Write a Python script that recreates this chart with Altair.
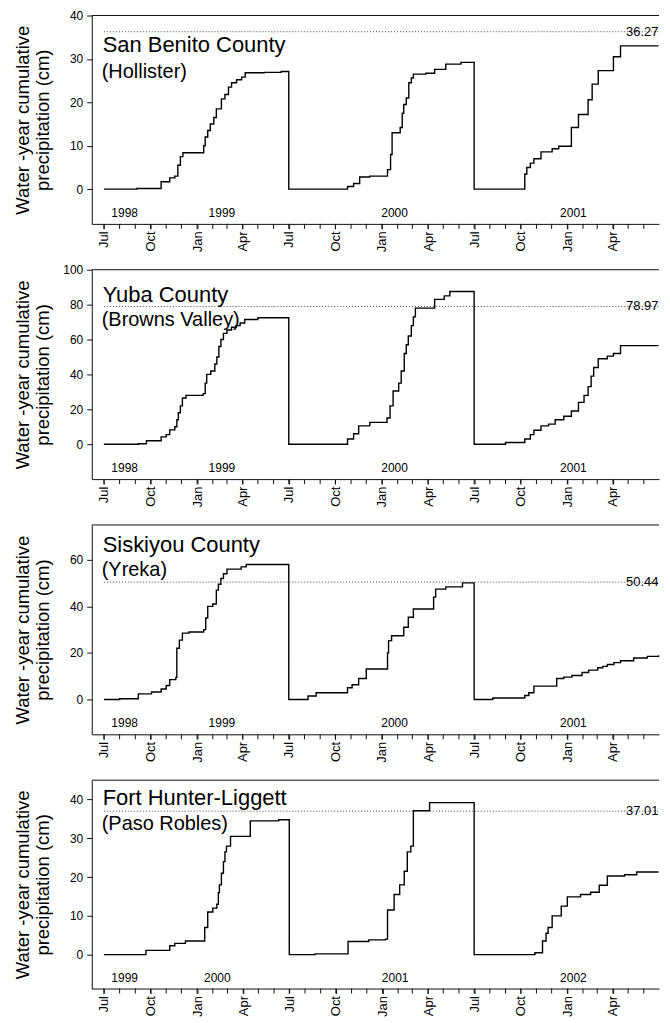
import altair as alt
import pandas as pd

# ---------------- data ----------------
sb_dates = ["1998-07-01", "1998-09-04", "1998-10-22", "1998-11-08", "1998-11-18", "1998-11-24",
            "1998-11-29", "1998-12-04", "1999-01-14", "1999-01-17", "1999-01-22", "1999-01-27",
            "1999-02-03", "1999-02-08", "1999-02-18", "1999-02-25", "1999-03-04", "1999-03-10",
            "1999-03-20", "1999-03-30", "1999-04-06", "1999-05-14", "1999-06-16",
            "1999-07-01", "1999-10-25", "1999-11-06", "1999-11-18", "1999-12-08", "2000-01-12",
            "2000-01-18", "2000-01-21", "2000-02-06", "2000-02-10", "2000-02-13", "2000-02-18",
            "2000-02-23", "2000-02-28", "2000-03-03", "2000-03-28", "2000-04-14", "2000-05-06",
            "2000-06-05",
            "2000-07-01", "2000-10-09", "2000-10-13", "2000-10-20", "2000-10-27", "2000-11-10",
            "2000-12-02", "2000-12-15", "2001-01-09", "2001-01-23", "2001-02-11", "2001-02-19",
            "2001-03-03", "2001-04-02", "2001-04-16", "2001-06-30"]
sb_vals = [0, 0.15, 1.7, 2.6, 3.0, 5.5,
           7.5, 8.4, 10.0, 12.0, 13.5, 15.0,
           16.5, 18.5, 20.8, 21.8, 23.5, 24.5,
           25.2, 25.8, 26.8, 26.9, 27.1,
           0, 0.6, 1.3, 2.8, 3.0, 4.5,
           8.0, 13.0, 14.2, 17.5, 19.5, 21.0,
           24.5, 25.6, 26.5, 26.7, 27.6, 28.8,
           29.2,
           0, 3.5, 5.0, 6.0, 7.0, 8.6,
           9.3, 9.9, 14.2, 17.2, 20.6, 24.2,
           27.3, 30.5, 33.0, 33.0]

yu_dates = ["1998-07-01", "1998-09-07", "1998-09-23", "1998-10-22", "1998-11-01", "1998-11-08",
            "1998-11-18", "1998-11-22", "1998-11-25", "1998-11-29", "1998-12-03", "1998-12-10",
            "1999-01-13", "1999-01-17", "1999-01-20", "1999-01-28", "1999-02-05", "1999-02-09",
            "1999-02-13", "1999-02-17", "1999-02-22", "1999-03-01", "1999-03-10", "1999-03-19",
            "1999-03-27", "1999-04-05", "1999-05-01",
            "1999-07-01", "1999-10-25", "1999-11-06", "1999-11-16", "1999-12-08", "2000-01-11",
            "2000-01-17", "2000-01-23", "2000-02-03", "2000-02-08", "2000-02-14", "2000-02-18",
            "2000-02-22", "2000-02-28", "2000-03-03", "2000-03-07", "2000-04-14", "2000-05-03",
            "2000-05-14",
            "2000-07-01", "2000-09-01", "2000-10-09", "2000-10-20", "2000-10-27", "2000-11-10",
            "2000-11-25", "2000-12-08", "2000-12-25", "2001-01-09", "2001-01-23", "2001-02-03",
            "2001-02-11", "2001-02-17", "2001-02-22", "2001-03-03", "2001-03-21", "2001-04-02",
            "2001-04-16", "2001-06-30"]
yu_vals = [0, 0.3, 2.0, 4.2, 5.5, 8.2,
           10.0, 14.0, 18.0, 22.0, 26.5, 28.0,
           29.0, 35.0, 40.0, 42.0, 46.0, 50.0,
           56.0, 60.0, 63.5, 65.5, 67.0, 68.0,
           69.5, 71.5, 72.5,
           0, 3.0, 6.0, 10.5, 12.5, 15.0,
           22.0, 30.5, 35.0, 42.0, 52.0, 57.0,
           62.0, 68.0, 73.0, 78.0, 83.0, 85.0,
           87.5,
           0, 1.0, 3.0, 5.5, 8.0, 10.5,
           11.5, 14.0, 16.0, 19.0, 24.0, 28.0,
           33.0, 39.0, 44.0, 49.0, 50.5, 52.0,
           56.5, 56.5]

sk_dates = ["1998-07-01", "1998-08-01", "1998-09-07", "1998-10-03", "1998-10-22", "1998-11-01",
            "1998-11-08", "1998-11-20", "1998-11-22", "1998-11-27", "1998-12-03", "1998-12-16",
            "1999-01-14", "1999-01-18", "1999-01-22", "1999-02-01", "1999-02-08", "1999-02-12",
            "1999-02-17", "1999-02-22", "1999-03-01", "1999-03-29", "1999-04-08",
            "1999-07-01", "1999-08-08", "1999-08-24", "1999-10-25", "1999-11-03", "1999-11-16",
            "1999-12-01", "2000-01-12", "2000-01-14", "2000-01-20", "2000-02-13", "2000-02-22",
            "2000-03-03", "2000-04-12", "2000-04-16", "2000-05-06", "2000-06-08",
            "2000-07-01", "2000-08-07", "2000-10-09", "2000-10-17", "2000-10-27", "2000-12-11",
            "2000-12-25", "2001-01-10", "2001-01-30", "2001-02-12", "2001-03-02", "2001-03-12",
            "2001-03-21", "2001-04-03", "2001-04-16", "2001-05-12", "2001-06-08", "2001-06-30"]
sk_vals = [0, 0.3, 2.4, 3.2, 4.5, 6.0,
           8.5, 9.5, 22.0, 25.5, 28.5, 29.0,
           30.0, 35.0, 40.0, 41.0, 47.0, 49.5,
           52.0, 54.0, 56.0, 57.0, 58.0,
           0, 1.5, 2.9, 5.0, 6.3, 9.0,
           13.1, 20.0, 25.3, 27.4, 31.0, 35.3,
           38.9, 44.0, 47.4, 48.4, 50.1,
           0, 0.6, 1.7, 2.9, 5.7, 9.0,
           9.6, 10.3, 11.6, 12.6, 13.6, 14.2,
           15.0, 15.8, 16.6, 17.8, 18.5, 19.0]

fh_dates = ["1999-07-01", "1999-09-22", "1999-11-08", "1999-11-18", "1999-12-09", "2000-01-16",
            "2000-01-22", "2000-02-01", "2000-02-09", "2000-02-12", "2000-02-14", "2000-02-18",
            "2000-02-22", "2000-02-25", "2000-02-28", "2000-03-07", "2000-04-15", "2000-06-10",
            "2000-07-01", "2000-08-21", "2000-10-25", "2000-12-05", "2001-01-07", "2001-01-11",
            "2001-01-24", "2001-02-04", "2001-02-13", "2001-02-19", "2001-02-26", "2001-03-03",
            "2001-04-04",
            "2001-07-01", "2001-10-29", "2001-11-13", "2001-11-20", "2001-11-24", "2001-12-02",
            "2001-12-20", "2002-01-01", "2002-01-27", "2002-02-16", "2002-03-05", "2002-03-21",
            "2002-04-24", "2002-05-18", "2002-06-30"]
fh_vals = [0, 1.1, 2.3, 2.9, 3.5, 7.0,
           11.0, 12.0, 13.0, 16.0, 18.0, 21.0,
           24.0, 26.5, 28.0, 30.5, 34.5, 34.8,
           0, 0.2, 3.4, 3.8, 4.0, 11.5,
           15.5, 18.0, 21.5, 26.5, 28.0, 37.1,
           39.2,
           0, 0.5, 3.5, 5.5, 7.0, 10.0,
           12.5, 14.9, 15.5, 16.1, 17.9, 20.3,
           20.6, 21.3, 21.3]

titles = ["San Benito County", "Yuba County", "Siskiyou County", "Fort Hunter-Liggett"]
subtitles = ["(Hollister)", "(Browns Valley)", "(Yreka)", "(Paso Robles)"]
means = [36.27, 78.97, 50.44, 37.01]
y_ticks = [[0, 10, 20, 30, 40], [0, 20, 40, 60, 80, 100], [0, 20, 40, 60], [0, 10, 20, 30, 40]]
year_labels = [["1998", "1999", "2000", "2001"], ["1998", "1999", "2000", "2001"],
               ["1998", "1999", "2000", "2001"], ["1999", "2000", "2001", "2002"]]
year_label_dates = [["1998-08-11", "1999-02-19", "2000-01-26", "2001-01-13"],
                    ["1998-08-11", "1999-02-19", "2000-01-26", "2001-01-13"],
                    ["1998-08-11", "1999-02-19", "2000-01-26", "2001-01-13"],
                    ["1999-08-11", "2000-02-10", "2001-01-26", "2002-01-13"]]
start_years = [1998, 1998, 1998, 1999]
series = [(sb_dates, sb_vals), (yu_dates, yu_vals), (sk_dates, sk_vals), (fh_dates, fh_vals)]

# ---------------- layout / style ----------------
FONT = "Liberation Sans"
y_domains = [[-8, 40], [-20, 100], [-15, 75], [-8.75, 45]]
heights = [209, 210, 210, 209]
title_y = [37, 32.5, 26.7, 24.5]
sub_y = [63, 56, 51.5, 49.5]
WIDTH = 569
INK = "#111111"
Y_TITLE = ["Water -year cumulative", "precipitation (cm)"]


def ms(s):
    return int(pd.Timestamp(s).value // 10**6)


panels = []
for i in range(4):
    sy = start_years[i]
    d, v = series[i]
    h = heights[i]
    df_line = pd.DataFrame({"date": d, "value": v})
    df_mean = pd.DataFrame({"date": [f"{sy}-07-01"], "date_end": [f"{sy + 3}-06-30"],
                            "value": [means[i]], "label": [f"{means[i]:.2f}"]})
    df_years = pd.DataFrame({"date": year_label_dates[i], "label": year_labels[i]})
    df_title = pd.DataFrame({"title": [titles[i]], "sub": [subtitles[i]]})
    months = pd.date_range(f"{sy}-07-01", periods=36, freq="MS")
    df_ticks = pd.DataFrame({"date": [m.strftime("%Y-%m-%d") for m in months]})
    quarter_vals = [ms(m) for m in months if m.month in (1, 4, 7, 10)]

    xscale = alt.Scale(type="utc", domain=[ms(f"{sy}-06-07"), ms(f"{sy + 3}-07-01")])
    yscale = alt.Scale(domain=y_domains[i], nice=False, zero=False)

    xaxis = alt.Axis(values=quarter_vals, title=None, grid=False, domain=True,
                     domainColor=INK, domainWidth=1,
                     tickSize=5, tickColor=INK, labelAngle=270, labelFontSize=13,
                     labelPadding=2, labelColor="black", labelFont=FONT,
                     labelOverlap=False, labelBound=False, labelFlush=False,
                     labelExpr="utcFormat(datum.value, '%b')")
    yaxis = alt.Axis(values=y_ticks[i], title=Y_TITLE,
                     grid=False, domain=True, domainColor=INK, domainWidth=1,
                     tickSize=5, tickColor=INK, labelFontSize=12,
                     labelPadding=4, labelColor="black", labelFont=FONT, labelOverlap=False,
                     titleFont=FONT, titleFontSize=18.5, titleFontWeight="normal",
                     titleColor="black", titleLineHeight=20, titleAngle=270,
                     titleX=-69, titleY=h / 2, titleAlign="center", titleBaseline="middle")

    line = alt.Chart(df_line).mark_line(interpolate="step-after", color="black",
                                        strokeWidth=1.4).encode(
        x=alt.X("date:T", scale=xscale, axis=xaxis),
        y=alt.Y("value:Q", scale=yscale, axis=yaxis),
    )
    # monthly minor ticks below the bottom axis line
    mticks = alt.Chart(df_ticks).mark_rule(color=INK, strokeWidth=1).encode(
        x="date:T", y=alt.value(h), y2=alt.value(h + 5)
    )
    # top frame line
    top = alt.Chart(df_title).mark_rule(color=INK, strokeWidth=1).encode(
        x=alt.value(0), x2=alt.value(WIDTH), y=alt.value(0)
    )
    rule = alt.Chart(df_mean).mark_rule(color="#444444", strokeWidth=1,
                                        strokeDash=[1, 2]).encode(
        x="date:T", x2="date_end:T", y="value:Q"
    )
    mean_txt = alt.Chart(df_mean).mark_text(align="right", baseline="middle", fontSize=13,
                                            font=FONT, color="black").encode(
        x="date_end:T", y="value:Q", text="label:N"
    )
    yr_txt = alt.Chart(df_years).mark_text(align="center", baseline="alphabetic", fontSize=12,
                                           font=FONT, color="black").encode(
        x="date:T", y=alt.value(h - 7), text="label:N"
    )
    t1 = alt.Chart(df_title).mark_text(align="left", baseline="alphabetic", fontSize=22,
                                       font=FONT, color="black").encode(
        x=alt.value(11), y=alt.value(title_y[i]), text="title:N"
    )
    t2 = alt.Chart(df_title).mark_text(align="left", baseline="alphabetic", fontSize=20,
                                       font=FONT, color="black").encode(
        x=alt.value(10), y=alt.value(sub_y[i]), text="sub:N"
    )
    panel = alt.layer(line, mticks, top, rule, mean_txt, yr_txt, t1, t2).properties(
        width=WIDTH, height=h)
    panels.append(panel)

chart = alt.vconcat(*panels, spacing=46, bounds="flush").resolve_scale(
    x="independent", y="independent"
).properties(
    padding={"left": 6, "top": 0, "right": 0, "bottom": 0}
).configure(font=FONT).configure_axis(labelOverlap=False).configure_view(stroke=None)

chart.save("out.html", embed_options={"renderer": "svg", "actions": False})
